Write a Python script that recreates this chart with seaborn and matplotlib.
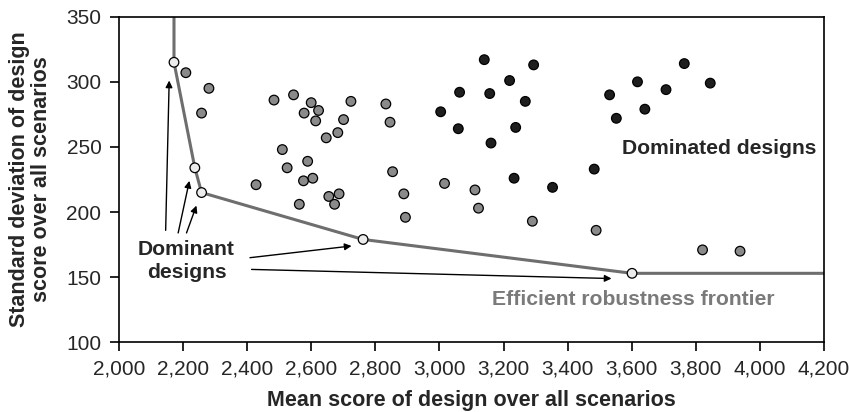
import numpy as np
import pandas as pd
import matplotlib
matplotlib.use("Agg")
import matplotlib.pyplot as plt
import seaborn as sns

# dominant designs (on the frontier)
dominant_x = [2172, 2237, 2258, 2762, 3601]
dominant_y = [315, 234, 215, 179, 153]

# frontier line vertices (runs off the top and out to the right edge)
frontier_x = [2172, 2172, 2237, 2258, 2762, 3601, 4200]
frontier_y = [360, 315, 234, 215, 179, 153, 153]

# dominated designs, moderately (grey)
grey_x = [2209, 2281, 2258, 2484, 2545, 2600, 2578, 2623, 2724, 2614,
          2701, 2683, 2647, 2833, 2846, 2510, 2525, 2589, 2605, 2576,
          2428, 2854, 2655, 2687, 2673, 2563, 2889, 2894, 3016, 3111,
          3122, 3290, 3489, 3821, 3938]
grey_y = [307, 295, 276, 286, 290, 284, 276, 278, 285, 270,
          271, 261, 257, 283, 269, 248, 234, 239, 226, 224,
          221, 231, 212, 214, 206, 206, 214, 196, 222, 217,
          203, 193, 186, 171, 170]

# dominated designs, strongly (dark)
dark_x = [3140, 3294, 3219, 3063, 3157, 3268, 3004, 3059, 3238, 3161,
          3233, 3353, 3483, 3531, 3552, 3618, 3641, 3707, 3764, 3845]
dark_y = [317, 313, 301, 292, 291, 285, 277, 264, 265, 253,
          226, 219, 233, 290, 272, 300, 279, 294, 314, 299]

# arrows from the "Dominant designs" label: tail -> head
arrow_tail_x = [2146, 2185, 2211, 2409, 2414]
arrow_tail_y = [186, 184, 184, 165, 156]
arrow_head_x = [2157, 2220, 2242, 2726, 3537]
arrow_head_y = [301, 224, 205, 174, 149]

x_ticks = list(range(2000, 4201, 200))
y_ticks = list(range(100, 351, 50))


def main():
    sns.set_theme(style="white")
    plt.rcParams["font.family"] = ["Liberation Sans", "DejaVu Sans"]

    fig = plt.figure(figsize=(8.49, 4.12), dpi=100)
    ax = fig.add_axes([0.140, 0.169, 0.8306, 0.7905])

    pts = pd.concat([
        pd.DataFrame({"x": grey_x, "y": grey_y, "kind": "grey"}),
        pd.DataFrame({"x": dark_x, "y": dark_y, "kind": "dark"}),
    ], ignore_index=True)
    front = pd.DataFrame({"x": frontier_x, "y": frontier_y})
    dom = pd.DataFrame({"x": dominant_x, "y": dominant_y, "kind": "light"})

    sns.lineplot(data=front, x="x", y="y", sort=False, estimator=None,
                 color="#6e6e6e", linewidth=2.2, ax=ax, zorder=2)
    palette = {"grey": "#8a8a8a", "dark": "#1e1e1e", "light": "#ececec"}
    sns.scatterplot(data=pts, x="x", y="y", hue="kind", palette=palette,
                    s=48, edgecolor="black", linewidth=0.9, legend=False,
                    ax=ax, zorder=3)
    sns.scatterplot(data=dom, x="x", y="y", hue="kind", palette=palette,
                    s=48, edgecolor="black", linewidth=0.9, legend=False,
                    ax=ax, zorder=4)

    for tx, ty, hx, hy in zip(arrow_tail_x, arrow_tail_y, arrow_head_x, arrow_head_y):
        ax.annotate("", xy=(hx, hy), xytext=(tx, ty),
                    arrowprops=dict(arrowstyle="-|>", color="black", lw=1.0,
                                    mutation_scale=10, shrinkA=0, shrinkB=0))

    ax.text(2211, 162.5, "Dominant\ndesigns", ha="center", va="center",
            fontsize=15.2, fontweight="bold", linespacing=1.25)
    ax.text(3872, 249, "Dominated designs", ha="center", va="center",
            fontsize=15.2, fontweight="bold")
    ax.text(3605, 133, "Efficient robustness frontier", ha="center", va="center",
            fontsize=15.2, fontweight="bold", color="#7a7a7a")

    ax.set_xlim(2000, 4200)
    ax.set_ylim(100, 350)
    ax.set_xticks(x_ticks)
    ax.set_xticklabels([f"{v:,}" for v in x_ticks])
    ax.set_yticks(y_ticks)
    ax.tick_params(axis="both", direction="out", length=6.5, width=1.2,
                   labelsize=15, color="black", bottom=True, left=True,
                   pad=6)
    for sp in ax.spines.values():
        sp.set_color("black")
        sp.set_linewidth(1.2)

    ax.set_xlabel("Mean score of design over all scenarios", fontsize=15.5,
                  fontweight="bold", labelpad=8)
    ax.set_ylabel("Standard deviation of design\nscore over all scenarios",
                  fontsize=15.5, fontweight="bold", labelpad=10,
                  linespacing=1.1)

    fig.savefig("out.png", dpi=100)


if __name__ == "__main__":
    main()
